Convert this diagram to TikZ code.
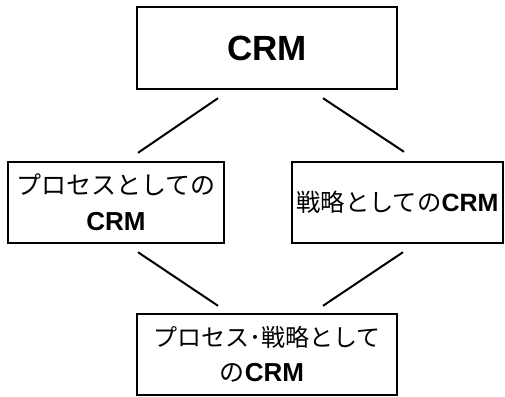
\documentclass[tikz,border=0pt]{standalone}
\usepackage{fontspec}
\setmainfont{Liberation Sans}
\newfontfamily\jp{Noto Sans CJK JP}
\usetikzlibrary{calc}
\begin{document}
\begin{tikzpicture}[x=1pt,y=-1pt,
  box/.style={draw, line width=2.4pt, inner sep=0pt, align=center},
  label/.style={font=\fontsize{25}{36}\selectfont},
  link/.style={line width=2pt}]
\useasboundingbox (0,0) rectangle (505,396);

% boxes
\node[box, minimum width=260pt, minimum height=82pt] (crm) at (267,48)
  {\fontsize{35}{36}\selectfont\bfseries CRM};
\node[box, label, minimum width=216pt, minimum height=81pt] (proc) at (116,202.5)
  {{\jp プロセスとしての}\\{\fontsize{26}{36}\selectfont\bfseries CRM}};
\node[box, label, minimum width=211pt, minimum height=81pt] (strat) at (397.5,202.5)
  {{\fontsize{24.3}{36}\selectfont\jp 戦略としての}{\fontsize{25}{36}\selectfont\bfseries CRM}};
\node[box, label, minimum width=260pt, minimum height=81pt] (both) at (267,354.5)
  {{\fontsize{24}{35}\selectfont\jp プロセス･戦略として}\\[-1pt]{\jp の}{\fontsize{26}{36}\selectfont\bfseries CRM}\hspace*{10pt}};

% connector end points, kept clear of the boxes
\coordinate (a1) at ($(crm.south)+(-49,8)$);
\coordinate (a2) at ($(proc.north)+(22,-8)$);
\coordinate (b1) at ($(crm.south)+(56,8)$);
\coordinate (b2) at ($(strat.north)+(6.5,-9)$);
\coordinate (c1) at ($(proc.south)+(22,8)$);
\coordinate (c2) at ($(both.north)+(-49,-7)$);
\coordinate (d1) at ($(strat.south)+(5.5,8)$);
\coordinate (d2) at ($(both.north)+(56,-7)$);

\draw[link] (a1) -- (a2);
\draw[link] (b1) -- (b2);
\draw[link] (c1) -- (c2);
\draw[link] (d1) -- (d2);
\end{tikzpicture}
\end{document}
